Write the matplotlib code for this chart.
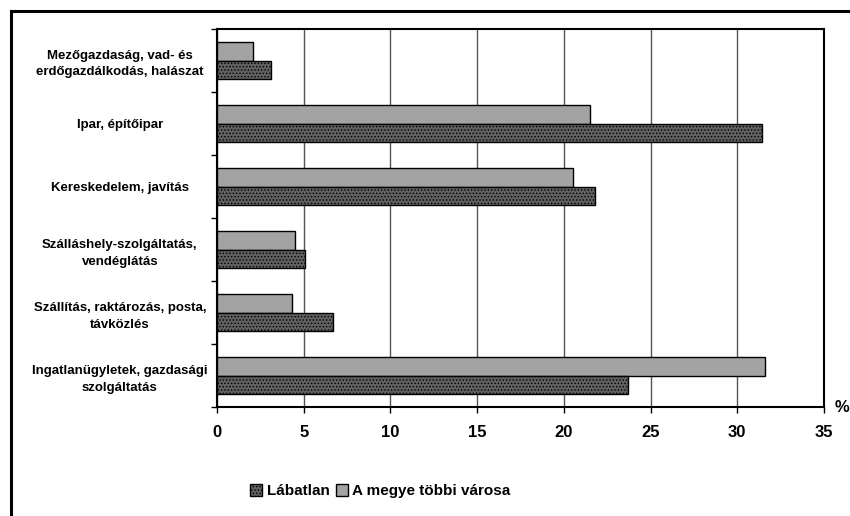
import numpy as np
import matplotlib
matplotlib.use('Agg')
from matplotlib import pyplot as plt
from matplotlib.lines import Line2D
from matplotlib.patches import Patch

plt.rcParams['font.family'] = ['Liberation Sans', 'DejaVu Sans']
plt.rcParams['hatch.linewidth'] = 0.6

# Data (percent), top to bottom
categories = [
    "Mezőgazdaság, vad- és\nerdőgazdálkodás, halászat",
    "Ipar, építőipar",
    "Kereskedelem, javítás",
    "Szálláshely-szolgáltatás,\nvendéglátás",
    "Szállítás, raktározás, posta,\ntávközlés",
    "Ingatlanügyletek, gazdasági\nszolgáltatás",
]
labatlan = [3.1, 31.4, 21.8, 5.1, 6.7, 23.7]
tobbi_varos = [2.1, 21.5, 20.5, 4.5, 4.3, 31.6]
x_ticks = [0, 5, 10, 15, 20, 25, 30, 35]

fig = plt.figure(figsize=(8.5, 5.16), dpi=100)
ax = fig.add_axes([217 / 850, 1 - 407 / 516, 607 / 850, 378 / 516])

y = np.arange(len(categories))
h = 0.29
ax.barh(y - h / 2, tobbi_varos, height=h, color='#a3a3a3', edgecolor='black',
        linewidth=1.0, zorder=3, label='A megye többi városa')
ax.barh(y + h / 2, labatlan, height=h, color='#606060', edgecolor='black',
        hatch='.....', linewidth=1.0, zorder=3, label='Lábatlan')

ax.set_ylim(len(categories) - 0.5, -0.5)
ax.set_xlim(0, 35)
ax.set_xticks(x_ticks)
ax.set_xticklabels([str(t) for t in x_ticks], fontsize=12, fontweight='bold')
ax.tick_params(axis='x', length=4, width=1, pad=9)

# category labels, ticks between categories
ax.set_yticks(y)
ax.set_yticklabels(categories, fontsize=9.5, fontweight='bold', ha='center',
                   linespacing=1.5)
ax.tick_params(axis='y', length=0, pad=70)
ax.set_yticks(np.arange(len(categories) + 1) - 0.5, minor=True)
ax.tick_params(axis='y', which='minor', length=4, width=1)

ax.grid(axis='x', color='#555555', linewidth=1.0, zorder=0)
for s in ax.spines.values():
    s.set_linewidth(1.5)

fig.text(835 / 850, 1 - 408 / 516, '%', fontsize=12, fontweight='bold',
         ha='left', va='center')

# outer frame (left and top only visible)
fig.add_artist(Line2D([11 / 850, 11 / 850], [0, 1 - 11 / 516], color='black',
                      linewidth=2.2, transform=fig.transFigure))
fig.add_artist(Line2D([11 / 850, 1], [1 - 11 / 516, 1 - 11 / 516], color='black',
                      linewidth=2.2, transform=fig.transFigure))

handles = [Patch(facecolor='#606060', edgecolor='black', hatch='.....'),
           Patch(facecolor='#a3a3a3', edgecolor='black')]
fig.legend(handles, ['Lábatlan', 'A megye többi városa'], loc='center left',
           bbox_to_anchor=(236 / 850, 1 - 491 / 516), ncol=2, frameon=False,
           prop={'size': 11, 'weight': 'bold'}, handlelength=0.8, handleheight=0.8,
           handletextpad=0.3, columnspacing=0.4)

fig.savefig('out.png', dpi=100)
